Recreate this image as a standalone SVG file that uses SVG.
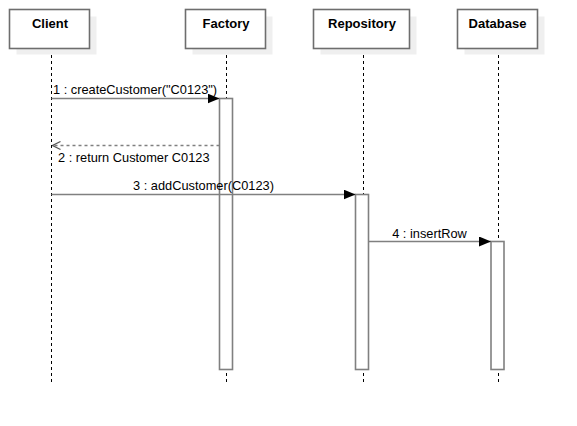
<svg xmlns="http://www.w3.org/2000/svg" width="577" height="426" viewBox="0 0 577 426">
<defs>
<style>
.shadow{fill:#efefef;stroke:none}
.box{fill:#ffffff;stroke:#6e6e6e;stroke-width:1.6}
.title{font-family:"Liberation Sans",Arial,sans-serif;font-size:13px;font-weight:bold;fill:#000;text-anchor:middle}
.life{stroke:#000;stroke-width:1;stroke-dasharray:3,3;fill:none}
.act{fill:#ffffff;stroke:#808080;stroke-width:1.6}
.msg{stroke:#808080;stroke-width:1.3;fill:none}
.ret{stroke:#808080;stroke-width:1.3;stroke-dasharray:3,3;fill:none}
.lbl{font-family:"Liberation Sans",Arial,sans-serif;font-size:12.8px;fill:#000}
</style>
<marker id="filled" markerWidth="12" markerHeight="10" refX="12" refY="5" orient="auto" markerUnits="userSpaceOnUse">
<path d="M0,0 L12,5 L0,10 Z" fill="#000"/>
</marker>
<marker id="open" markerWidth="10" markerHeight="10" refX="9" refY="5" orient="auto" markerUnits="userSpaceOnUse">
<path d="M1,1 L9,5 L1,9" fill="none" stroke="#555555" stroke-width="1.2"/>
</marker>
</defs>
<rect width="577" height="426" fill="#ffffff"/>
<g id="lifelines">
<line class="life" x1="51.5" y1="49" x2="51.5" y2="383"/>
<line class="life" x1="226.5" y1="49" x2="226.5" y2="383"/>
<line class="life" x1="363.5" y1="49" x2="363.5" y2="383"/>
<line class="life" x1="498.5" y1="49" x2="498.5" y2="383"/>
</g>
<g id="client">
<rect class="shadow" x="16.5" y="16.5" width="80" height="38"/>
<rect class="box" x="9.5" y="9.5" width="80" height="39"/>
<text class="title" x="50" y="27.5">Client</text>
</g>
<g id="factory">
<rect class="shadow" x="192.5" y="16.5" width="80" height="38"/>
<rect class="box" x="185.5" y="9.5" width="80" height="39"/>
<text class="title" x="226" y="27.5">Factory</text>
<rect class="act" x="219.5" y="98.5" width="13" height="271"/>
</g>
<g id="repository">
<rect class="shadow" x="320.5" y="16.5" width="96" height="38"/>
<rect class="box" x="313.5" y="9.5" width="96" height="39"/>
<text class="title" x="362" y="27.5">Repository</text>
<rect class="act" x="355.5" y="194.5" width="13" height="175"/>
</g>
<g id="database">
<rect class="shadow" x="464.5" y="16.5" width="80" height="38"/>
<rect class="box" x="457.5" y="9.5" width="80" height="39"/>
<text class="title" x="497.5" y="27.5">Database</text>
<rect class="act" x="491" y="241.5" width="13" height="128"/>
</g>
<g id="connectors">
<line class="msg" x1="51.5" y1="98.5" x2="219.5" y2="98.5" marker-end="url(#filled)"/>
<text class="lbl" x="53" y="94">1 : createCustomer("C0123")</text>
<line class="ret" x1="219.5" y1="145.5" x2="52.5" y2="145.5" marker-end="url(#open)"/>
<text class="lbl" x="58" y="162">2 : return Customer C0123</text>
<line class="msg" x1="51.5" y1="194.5" x2="355.5" y2="194.5" marker-end="url(#filled)"/>
<text class="lbl" x="203.5" y="190" text-anchor="middle">3 : addCustomer(C0123)</text>
<line class="msg" x1="368.5" y1="241.5" x2="491" y2="241.5" marker-end="url(#filled)"/>
<text class="lbl" x="429.5" y="238" text-anchor="middle">4 : insertRow</text>
</g>
</svg>
